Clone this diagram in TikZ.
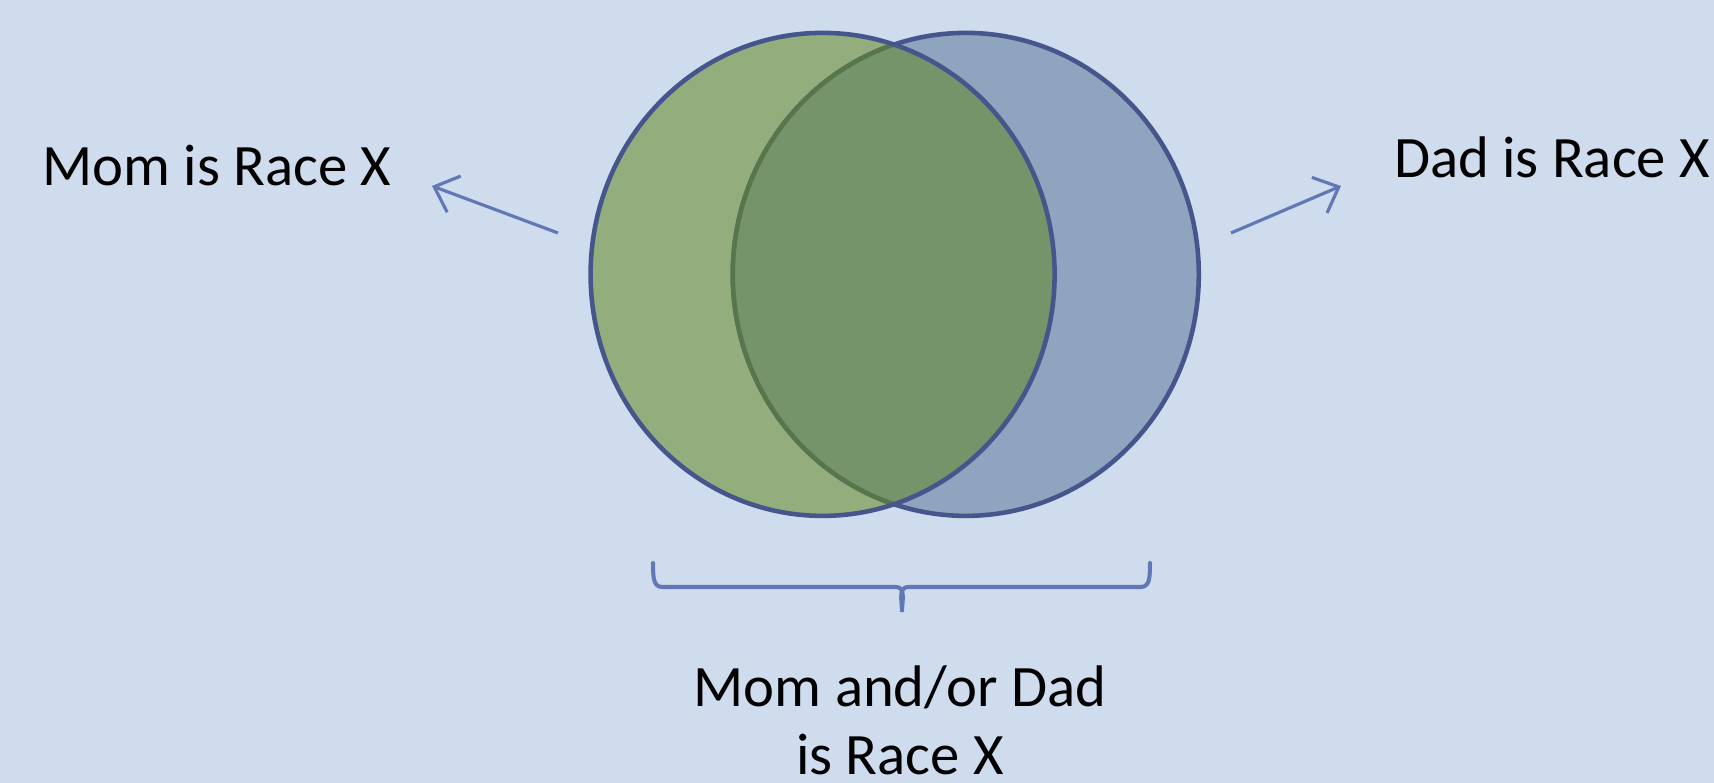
\documentclass[tikz,border=0pt]{standalone}
\usepackage{fontspec}
\setmainfont{Carlito}
\usetikzlibrary{arrows.meta}

\definecolor{slide}{RGB}{207,220,238}
\definecolor{momfill}{RGB}{147,174,124}
\definecolor{dadfill}{RGB}{143,164,191}
\definecolor{bothfill}{RGB}{118,148,106}
\definecolor{ringblue}{RGB}{70,86,140}
\definecolor{ringgreen}{RGB}{88,118,76}
\definecolor{pointblue}{RGB}{98,119,181}

\begin{document}
\begin{tikzpicture}[
    ring/.style={draw=ringblue, line width=1.3pt},
    pointer/.style={->, draw=pointblue, line width=0.9pt,
      >={Straight Barb[length=6pt, width=11pt, line width=0.9pt]}},
    bracket/.style={draw=pointblue, line width=1.15pt, line cap=round},
    labeltext/.style={font=\fontsize{16.7}{19.35}\selectfont, anchor=base}]
  % background slide, 1714 x 783 px at 1 px = 0.01 cm
  \useasboundingbox (0,0) rectangle (17.14,7.83);
  \fill[slide] (0,0) rectangle (17.14,7.83);

  % --- the two sets ---
  \coordinate (mom) at (8.226,5.086);
  \coordinate (dad) at (9.658,5.086);
  \fill[momfill] (mom) ellipse [x radius=2.32cm, y radius=2.415cm];
  \fill[dadfill] (dad) ellipse [x radius=2.33cm, y radius=2.415cm];
  \draw[ring]    (dad) ellipse [x radius=2.33cm, y radius=2.415cm];

  % --- overlap ---
  \begin{scope}
    \clip (mom) ellipse [x radius=2.32cm, y radius=2.415cm];
    \fill[bothfill] (dad) ellipse [x radius=2.33cm, y radius=2.415cm];
    \draw[ring, draw=ringgreen] (dad) ellipse [x radius=2.33cm, y radius=2.415cm];
  \end{scope}
  \draw[ring] (mom) ellipse [x radius=2.32cm, y radius=2.415cm];

  % --- labels ---
  \node[labeltext] (momlabel) at (2.17,5.97) {Mom is Race X};
  \node[labeltext] (dadlabel) at (15.52,6.05) {Dad is Race X};
  \node[labeltext, align=center, inner sep=0pt] (bothlabel) at (9.00,0.08)
    {Mom and/or Dad\\is Race X};

  % --- pointers ---
  \coordinate (momtail) at (5.58,5.50);
  \coordinate (momtip)  at (4.32,5.97);
  \coordinate (dadtail) at (12.31,5.50);
  \coordinate (dadtip)  at (13.41,5.97);
  \draw[pointer] (momtail) -- (momtip);
  \draw[pointer] (dadtail) -- (dadtip);

  % --- brace under the union ---
  \coordinate (braceleft)  at (6.53,2.20);
  \coordinate (braceright) at (11.50,2.20);
  \coordinate (bracetip)   at (9.02,1.71);
  \draw[bracket] (braceleft) to[out=-88,in=180] (6.62,1.96) -- (8.96,1.96)
    to[out=0,in=90] (bracetip) to[out=90,in=180] (9.08,1.96)
    -- (11.41,1.96) to[out=0,in=-92] (braceright);
\end{tikzpicture}
\end{document}
